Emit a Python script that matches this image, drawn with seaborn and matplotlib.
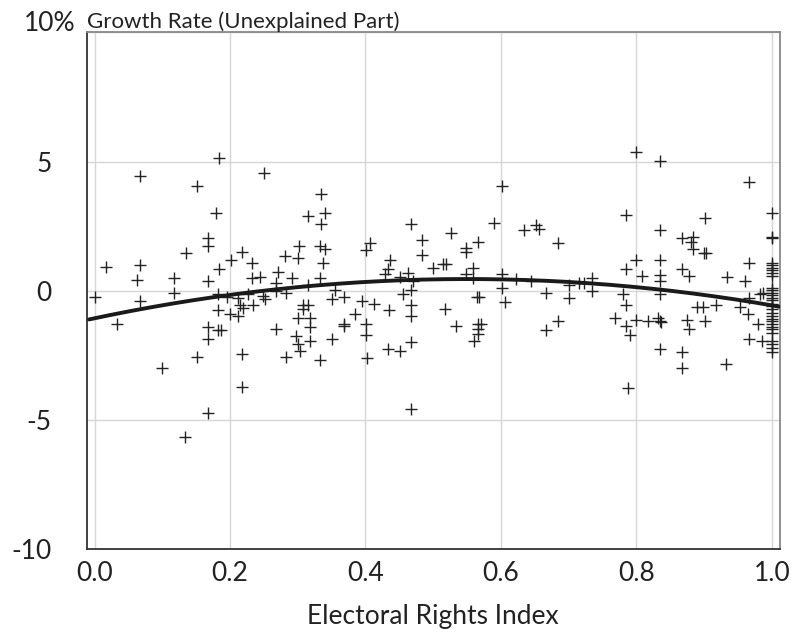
import matplotlib
matplotlib.use("Agg")
import matplotlib.pyplot as plt
import numpy as np
import pandas as pd
import seaborn as sns

# electoral rights index (x) and unexplained growth rate in % (y)
rights_index = [
    0.000, 0.017, 0.033, 0.063, 0.067, 0.067, 0.067,
    0.184, 0.151, 0.250, 0.179, 0.315, 0.168, 0.168, 0.135, 0.218, 0.302, 0.281,
    0.301, 0.201, 0.232, 0.184, 0.117, 0.168, 0.232, 0.244, 0.271, 0.291, 0.268,
    0.268, 0.117, 0.182, 0.195, 0.212, 0.227, 0.249, 0.251, 0.283, 0.215, 0.219,
    0.234, 0.308, 0.315, 0.308, 0.182, 0.200, 0.212, 0.301, 0.318, 0.168, 0.182,
    0.187, 0.268, 0.298, 0.301, 0.168, 0.303, 0.151, 0.217, 0.100, 0.218, 0.167,
    0.134, 0.283,
    0.318, 0.318, 0.315, 0.333, 0.340, 0.407, 0.401, 0.484, 0.484, 0.549, 0.549,
    0.338, 0.436, 0.433, 0.429, 0.463, 0.451, 0.500, 0.515, 0.519, 0.333, 0.355,
    0.470, 0.468, 0.456, 0.350, 0.368, 0.395, 0.412, 0.468, 0.435, 0.517, 0.384,
    0.468, 0.368, 0.368, 0.401, 0.401, 0.534, 0.350, 0.468, 0.433, 0.451, 0.402,
    0.333, 0.334, 0.340, 0.334, 0.468, 0.526, 0.468,
    0.566, 0.559, 0.549, 0.559, 0.564, 0.568, 0.566, 0.570, 0.566, 0.566, 0.560,
    0.601, 0.590, 0.601, 0.601, 0.606, 0.623, 0.645, 0.634, 0.652, 0.657, 0.684,
    0.667, 0.701, 0.701, 0.716, 0.722, 0.735, 0.735, 0.768, 0.684, 0.667,
    0.800, 0.835, 0.967, 0.785, 0.901, 0.835, 0.867, 0.884, 0.881, 0.884, 0.900,
    0.903, 0.800, 0.785, 0.835, 0.835, 0.835, 0.808, 0.867, 0.878, 0.934, 0.960,
    0.967, 0.780, 0.835, 0.785, 0.785, 0.790, 0.800, 0.817, 0.832, 0.835, 0.837,
    0.889, 0.899, 0.917, 0.953, 0.965, 0.980, 0.875, 0.901, 0.878, 0.967, 0.985,
    0.983, 0.987, 0.967, 0.933, 0.867, 0.867, 0.835, 0.787,
    1.0, 1.0, 1.0, 1.0, 1.0, 1.0, 1.0, 1.0, 1.0, 1.0,
    1.0, 1.0, 1.0, 1.0, 1.0, 1.0, 1.0, 1.0, 1.0, 1.0,
    1.0, 1.0, 1.0, 1.0, 1.0, 1.0, 1.0, 1.0, 1.0, 1.0,
]
growth_unexplained = [
    -0.23, 0.92, -1.30, 0.41, 0.99, 4.43, -0.40,
    5.14, 4.05, 4.54, 3.03, 2.88, 2.05, 1.73, 1.47, 1.51, 1.73, 1.34,
    1.28, 1.18, 1.08, 0.83, 0.50, 0.39, 0.50, 0.54, 0.72, 0.48, 0.31,
    -0.01, -0.08, -0.14, -0.23, -0.27, -0.14, -0.20, -0.31, -0.08, -0.53, -0.66,
    -0.55, -0.53, -0.53, -0.72, -0.75, -0.89, -0.98, -1.04, -1.04, -1.40, -1.52,
    -1.52, -1.49, -1.75, -2.07, -1.88, -2.33, -2.56, -2.44, -3.00, -3.72, -4.72,
    -5.66, -2.56,
    -1.39, -1.92, 0.21, 1.75, 1.62, 1.86, 1.57, 1.96, 1.37, 1.64, 1.51,
    1.08, 1.18, 0.83, 0.67, 0.70, 0.54, 0.89, 1.04, 1.04, 0.50, 0.05,
    0.37, 0.05, -0.14, -0.31, -0.23, -0.40, -0.49, -0.53, -0.75, -0.70, -0.91,
    -0.98, -1.30, -1.36, -1.30, -1.69, -1.36, -1.88, -1.98, -2.24, -2.33, -2.59,
    -2.69, 3.73, 3.03, 2.57, 2.59, 2.23, -4.58,
    1.89, 0.87, 0.66, 0.50, -0.24, -0.24, -1.28, -1.28, -1.49, -1.66, -1.92,
    4.07, 2.63, 0.66, 0.12, -0.44, 0.46, 0.40, 2.37, 2.54, 2.41, 1.86,
    -0.10, 0.21, -0.29, 0.31, 0.31, 0.48, -0.01, -1.04, -1.17, -1.52,
    5.36, 5.01, 4.21, 2.95, 2.82, 2.37, 2.05, 2.08, 1.89, 1.60, 1.45,
    1.45, 1.18, 0.85, 1.18, 0.63, 0.40, 0.57, 0.85, 0.57, 0.53, 0.37,
    1.08, -0.14, -0.14, -0.56, -1.34, -1.69, -1.13, -1.17, -1.04, -1.17, -1.21,
    -0.62, -0.62, -0.55, -0.62, -0.89, -1.28, -1.13, -1.17, -1.47, -1.88, -1.94,
    -0.14, -0.08, -0.27, -2.82, -2.37, -2.98, -2.23, -3.75,
    3.02, 2.09, 2.03, 1.08, 0.99, 0.89, 0.79, 0.68, 0.58, 0.12,
    0.03, -0.08, -0.17, -0.27, -0.37, -0.50, -0.59, -0.72, -0.85, -0.98,
    -1.08, -1.17, -1.27, -1.38, -1.49, -1.62, -1.94, -2.07, -2.20, -2.36,
]

# quadratic fit shown on the chart: growth = c0 + c1*x + c2*x^2
fit_coef = [-1.06, 5.52, -5.02]

x_ticks = [0.0, 0.2, 0.4, 0.6, 0.8, 1.0]
x_tick_labels = ["0.0", "0.2", "0.4", "0.6", "0.8", "1.0"]
y_ticks = [-10, -5, 0, 5, 10]
y_tick_labels = ["-10", "-5", "0", "5", ""]

df = pd.DataFrame({"rights": rights_index, "growth": growth_unexplained})

sns.set_theme(style="white")
plt.rcParams["font.family"] = ["Lato", "DejaVu Sans"]

fig = plt.figure(figsize=(7.94, 6.33), dpi=100)
ax = fig.add_axes([0.109, 0.132, 0.873, 0.817])
xlim = (-0.0118, 1.0117)
ax.set_xlim(*xlim)
ax.set_ylim(-10, 10)

sns.scatterplot(data=df, x="rights", y="growth", marker="+", s=64,
                color="#222222", linewidth=1.0, ax=ax, zorder=3)

fit_x = np.linspace(-0.008, 1.0117, 200)
fit_y = np.polyval(fit_coef[::-1], fit_x)
sns.lineplot(x=fit_x, y=fit_y, color="#1a1a1a", linewidth=2.8, ax=ax, zorder=4)

ax.set_xticks(x_ticks)
ax.set_xticklabels(x_tick_labels)
ax.set_yticks(y_ticks)
ax.set_yticklabels(y_tick_labels)
ax.grid(True, color="#d6d6d6", linewidth=1.0)
ax.set_axisbelow(True)

ax.tick_params(axis="x", direction="in", length=7, width=1.0, color="#222222",
               labelsize=19, pad=8, labelcolor="#222222")
ax.tick_params(axis="y", direction="in", length=9, width=1.4, color="#222222",
               labelsize=19, pad=25, labelcolor="#222222")
for lab in ax.get_yticklabels():
    lab.set_horizontalalignment("right")

ax.spines["left"].set_color("#333333")
ax.spines["bottom"].set_color("#333333")
ax.spines["top"].set_color("#888888")
ax.spines["right"].set_color("#888888")
for sp in ax.spines.values():
    sp.set_linewidth(1.3)

ax.set_xlabel("Electoral Rights Index", fontsize=19, labelpad=13, color="#222222")
ax.set_ylabel("")

ax.annotate("10%", xy=(0, 10), xycoords=("axes fraction", "data"),
            xytext=(-8, 6), textcoords="offset points", ha="right", va="center",
            fontsize=19, color="#222222")
ax.text(0.0, 1.0, "Growth Rate (Unexplained Part)", transform=ax.transAxes,
        ha="left", va="bottom", fontsize=16, color="#222222")

fig.savefig("out.png", dpi=100)
